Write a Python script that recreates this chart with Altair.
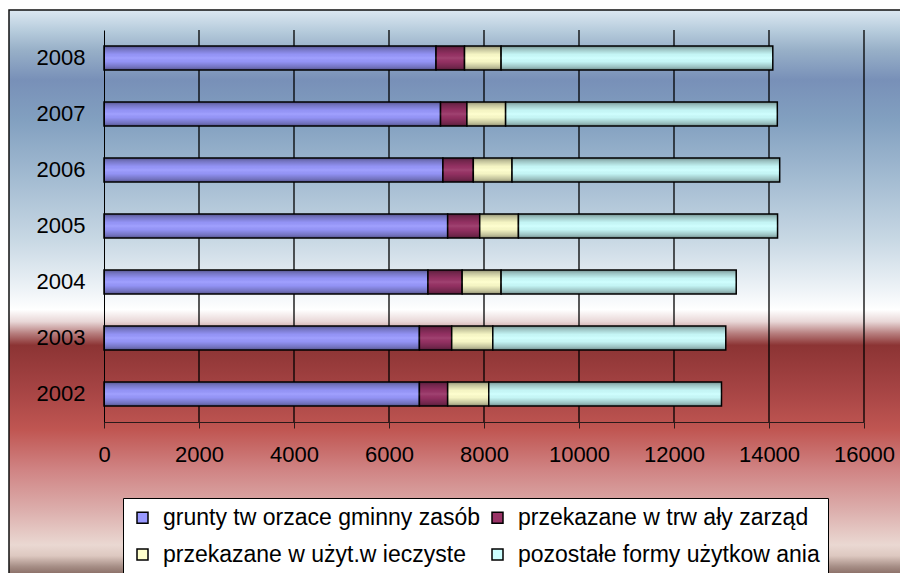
import altair as alt
import pandas as pd

# ---- data ----
years = ["2002", "2003", "2004", "2005", "2006", "2007", "2008"]
series = [
    "grunty tw orzace gminny zasób",
    "przekazane w  trw ały zarząd",
    "przekazane w  użyt.w ieczyste",
    "pozostałe formy użytkow ania",
]
grunty = [6640, 6640, 6820, 7235, 7135, 7085, 6990]
trwaly = [595, 680, 720, 675, 640, 555, 600]
uzyt = [865, 865, 820, 815, 815, 815, 770]
pozostale = [4900, 4905, 4950, 5455, 5635, 5720, 5720]
colors = ["#9999FF", "#993366", "#FFFFCC", "#CCFFFF"]
x_ticks = [0, 2000, 4000, 6000, 8000, 10000, 12000, 14000, 16000]

values = [grunty, trwaly, uzyt, pozostale]
rows = []
for si, (name, vals) in enumerate(zip(series, values)):
    for y, v in zip(years, vals):
        rows.append({"year": y, "series": name, "value": v, "ord": si})
df = pd.DataFrame(rows)
tot = pd.DataFrame({"year": years, "total": [sum(t) for t in zip(*values)]})

# legend is filled column by column: order entries so rows read as in the reference
leg_order = [0, 2, 1, 3]
leg_domain = [series[i] for i in leg_order]
leg_range = [colors[i] for i in leg_order]

W, H = 760, 392
FONT = "Liberation Sans"

xscale = alt.Scale(domain=[0, 16000], nice=False, zero=True)
yscale = alt.Scale(domain=years[::-1], paddingInner=0.57, paddingOuter=0.285)

x_axis = alt.Axis(
    values=x_ticks, grid=False, title=None, format="d",
    labelFontSize=22, labelFont=FONT, labelColor="black",
    domainColor="#2a1a1a", tickColor="#2a1a1a", tickSize=6,
    labelPadding=16, labelFlush=False, labelOverlap=False, zindex=1,
)
y_axis = alt.Axis(
    title=None, ticks=False, tickSize=0, domainColor="black",
    labelFontSize=22, labelFont=FONT, labelColor="black",
    labelPadding=19, zindex=1,
)


def stops(pairs):
    return [{"offset": o, "color": c} for o, c in pairs]


bg_grad = {
    "gradient": "linear", "x1": 0, "x2": 0, "y1": 0, "y2": 1,
    "stops": stops([
        (0.0, "#dce8f2"), (0.035, "#b8cddd"), (0.07, "#98b0c8"),
        (0.1226, "#7890b8"), (0.193, "#82a0c0"), (0.298, "#a4bcd2"),
        (0.403, "#c8d8e4"), (0.49, "#eef3f7"), (0.525, "#ffffff"),
        (0.546, "#e8d6d6"), (0.566, "#b88080"), (0.587, "#8c3434"),
        (0.665, "#a64444"), (0.7355, "#c05652"), (0.806, "#d08484"),
        (0.876, "#dcaeac"), (0.937, "#ead8d2"), (0.956, "#ddc8c0"),
        (0.974, "#a89088"), (1.0, "#6e5048"),
    ]),
}

shade_grad = {
    "gradient": "linear", "x1": 0, "x2": 0, "y1": 0, "y2": 1,
    "stops": stops([
        (0.0, "rgba(0,0,0,0.45)"), (0.12, "rgba(0,0,0,0.25)"),
        (0.35, "rgba(0,0,0,0.04)"), (0.5, "rgba(255,255,255,0.08)"),
        (0.65, "rgba(0,0,0,0.04)"), (0.88, "rgba(0,0,0,0.25)"),
        (1.0, "rgba(0,0,0,0.45)"),
    ]),
}

bg = alt.Chart(pd.DataFrame({"a": [0]})).mark_rect(
    fill=bg_grad, stroke="#111111", strokeWidth=1.5
).encode(
    x=alt.value(-95), x2=alt.value(820), y=alt.value(-20), y2=alt.value(551)
)

grid = alt.Chart(pd.DataFrame({"v": x_ticks[1:]})).mark_rule(
    color="#000000", strokeWidth=1.3
).encode(
    x=alt.X("v:Q", scale=xscale, axis=x_axis),
    y=alt.value(0),
    y2=alt.value(H),
)

bars = alt.Chart(df).mark_bar(stroke="black", strokeWidth=1.5).encode(
    x=alt.X("value:Q", stack="zero", scale=xscale, axis=x_axis),
    y=alt.Y("year:N", scale=yscale, sort=years[::-1], axis=y_axis),
    color=alt.Color(
        "series:N",
        scale=alt.Scale(domain=leg_domain, range=leg_range),
        legend=alt.Legend(
            title=None, orient="none", legendX=19, legendY=468, columns=2,
            fillColor="white", strokeColor="black", padding=8,
            columnPadding=5, rowPadding=13, labelFontSize=23, labelFont=FONT,
            labelColor="black", labelOffset=9, labelLimit=600,
            symbolType="square", symbolSize=121, symbolStrokeColor="black",
            symbolStrokeWidth=1.5,
        ),
    ),
    order=alt.Order("ord:Q", sort="ascending"),
)

shade = alt.Chart(tot).mark_bar(fill=shade_grad).encode(
    x=alt.X("total:Q", scale=xscale, axis=x_axis),
    y=alt.Y("year:N", scale=yscale, sort=years[::-1], axis=y_axis),
)

chart = alt.layer(bg, grid, bars, shade).properties(
    width=W, height=H,
    autosize=alt.AutoSizeParams(type="none"),
    padding={"left": 96, "top": 22, "right": 36, "bottom": 151},
    background="white",
).configure_view(stroke="transparent")

chart.save("out.html", embed_options={"renderer": "svg", "actions": False})
